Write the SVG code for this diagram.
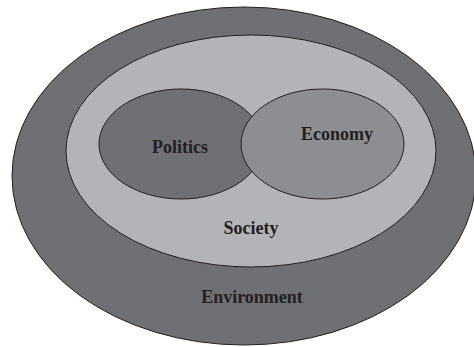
<svg xmlns="http://www.w3.org/2000/svg" width="474" height="347" viewBox="0 0 474 347">
<style>
.e{stroke:#231f20;stroke-width:1}
.t{font-family:"Liberation Serif","Times New Roman",serif;font-weight:bold;font-size:18px;fill:#231f20;text-anchor:middle}
</style>
<rect width="474" height="347" fill="#ffffff"/>
<g id="environment">
<ellipse class="e" cx="244" cy="176" rx="232" ry="169" fill="#6f7073"/>
<text class="t" x="252" y="303">Environment</text>
</g>
<g id="society">
<ellipse class="e" cx="251" cy="151" rx="185" ry="116" fill="#b3b4b7"/>
<text class="t" x="251" y="234">Society</text>
</g>
<g id="politics">
<ellipse class="e" cx="181" cy="144" rx="82" ry="55" fill="#6f7073"/>
<text class="t" x="180" y="153">Politics</text>
</g>
<g id="economy">
<ellipse class="e" cx="322.5" cy="144" rx="81.5" ry="55" fill="#8d8e91"/>
<text class="t" x="337" y="140">Economy</text>
</g>
<g id="connectors"></g>
</svg>
